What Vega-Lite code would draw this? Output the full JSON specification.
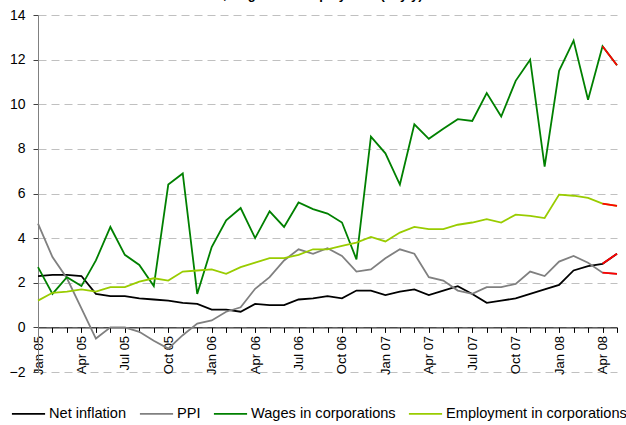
{
  "$schema": "https://vega.github.io/schema/vega-lite/v6.json",
  "width": 579,
  "height": 357,
  "autosize": {"type": "none"},
  "padding": {"left": 38, "top": 15, "right": 9, "bottom": 53},
  "background": "white",
  "title": {"text": "Inflation, wages and employment (% y/y)", "fontSize": 13, "fontWeight": "bold", "font": "Liberation Sans", "color": "black", "anchor": "middle", "baseline": "alphabetic", "offset": 0, "dy": 4, "dx": -30},
  "config": {
    "view": {"stroke": null},
    "font": "Liberation Sans",
    "axis": {"labelFont": "Liberation Sans", "labelFontSize": 13, "labelColor": "black"}
  },
  "data": {"values": [
    {"m": "Jan 05", "Net inflation": 2.3, "PPI": 4.65, "Wages in corporations": 2.7, "Employment in corporations": 1.2},
    {"m": "Feb 05", "Net inflation": 2.35, "PPI": 3.15, "Wages in corporations": 1.5, "Employment in corporations": 1.55},
    {"m": "Mar 05", "Net inflation": 2.35, "PPI": 2.2, "Wages in corporations": 2.25, "Employment in corporations": 1.6},
    {"m": "Apr 05", "Net inflation": 2.3, "PPI": 0.85, "Wages in corporations": 1.85, "Employment in corporations": 1.7},
    {"m": "May 05", "Net inflation": 1.5, "PPI": -0.5, "Wages in corporations": 3.0, "Employment in corporations": 1.6},
    {"m": "Jun 05", "Net inflation": 1.4, "PPI": 0.0, "Wages in corporations": 4.5, "Employment in corporations": 1.8},
    {"m": "Jul 05", "Net inflation": 1.4, "PPI": 0.0, "Wages in corporations": 3.25, "Employment in corporations": 1.8},
    {"m": "Aug 05", "Net inflation": 1.3, "PPI": -0.2, "Wages in corporations": 2.8, "Employment in corporations": 2.05},
    {"m": "Sep 05", "Net inflation": 1.25, "PPI": -0.6, "Wages in corporations": 1.85, "Employment in corporations": 2.2},
    {"m": "Oct 05", "Net inflation": 1.2, "PPI": -0.95, "Wages in corporations": 6.4, "Employment in corporations": 2.1},
    {"m": "Nov 05", "Net inflation": 1.1, "PPI": -0.35, "Wages in corporations": 6.9, "Employment in corporations": 2.5},
    {"m": "Dec 05", "Net inflation": 1.05, "PPI": 0.17, "Wages in corporations": 1.5, "Employment in corporations": 2.55},
    {"m": "Jan 06", "Net inflation": 0.8, "PPI": 0.31, "Wages in corporations": 3.6, "Employment in corporations": 2.6},
    {"m": "Feb 06", "Net inflation": 0.8, "PPI": 0.7, "Wages in corporations": 4.8, "Employment in corporations": 2.4},
    {"m": "Mar 06", "Net inflation": 0.7, "PPI": 0.9, "Wages in corporations": 5.35, "Employment in corporations": 2.7},
    {"m": "Apr 06", "Net inflation": 1.05, "PPI": 1.73, "Wages in corporations": 4.0, "Employment in corporations": 2.9},
    {"m": "May 06", "Net inflation": 1.0, "PPI": 2.25, "Wages in corporations": 5.2, "Employment in corporations": 3.1},
    {"m": "Jun 06", "Net inflation": 1.0, "PPI": 3.0, "Wages in corporations": 4.5, "Employment in corporations": 3.1},
    {"m": "Jul 06", "Net inflation": 1.25, "PPI": 3.5, "Wages in corporations": 5.6, "Employment in corporations": 3.25},
    {"m": "Aug 06", "Net inflation": 1.3, "PPI": 3.3, "Wages in corporations": 5.3, "Employment in corporations": 3.5},
    {"m": "Sep 06", "Net inflation": 1.4, "PPI": 3.55, "Wages in corporations": 5.1, "Employment in corporations": 3.5},
    {"m": "Oct 06", "Net inflation": 1.3, "PPI": 3.2, "Wages in corporations": 4.7, "Employment in corporations": 3.65},
    {"m": "Nov 06", "Net inflation": 1.65, "PPI": 2.5, "Wages in corporations": 3.05, "Employment in corporations": 3.8},
    {"m": "Dec 06", "Net inflation": 1.65, "PPI": 2.6, "Wages in corporations": 8.55, "Employment in corporations": 4.05},
    {"m": "Jan 07", "Net inflation": 1.45, "PPI": 3.1, "Wages in corporations": 7.8, "Employment in corporations": 3.85},
    {"m": "Feb 07", "Net inflation": 1.6, "PPI": 3.5, "Wages in corporations": 6.4, "Employment in corporations": 4.25},
    {"m": "Mar 07", "Net inflation": 1.7, "PPI": 3.3, "Wages in corporations": 9.1, "Employment in corporations": 4.5},
    {"m": "Apr 07", "Net inflation": 1.45, "PPI": 2.25, "Wages in corporations": 8.45, "Employment in corporations": 4.4},
    {"m": "May 07", "Net inflation": 1.65, "PPI": 2.1, "Wages in corporations": 8.9, "Employment in corporations": 4.4},
    {"m": "Jun 07", "Net inflation": 1.85, "PPI": 1.65, "Wages in corporations": 9.33, "Employment in corporations": 4.6},
    {"m": "Jul 07", "Net inflation": 1.5, "PPI": 1.5, "Wages in corporations": 9.25, "Employment in corporations": 4.7},
    {"m": "Aug 07", "Net inflation": 1.1, "PPI": 1.8, "Wages in corporations": 10.5, "Employment in corporations": 4.85},
    {"m": "Sep 07", "Net inflation": 1.2, "PPI": 1.8, "Wages in corporations": 9.45, "Employment in corporations": 4.7},
    {"m": "Oct 07", "Net inflation": 1.3, "PPI": 1.95, "Wages in corporations": 11.05, "Employment in corporations": 5.05},
    {"m": "Nov 07", "Net inflation": 1.5, "PPI": 2.5, "Wages in corporations": 12.0, "Employment in corporations": 5.0},
    {"m": "Dec 07", "Net inflation": 1.7, "PPI": 2.3, "Wages in corporations": 7.2, "Employment in corporations": 4.9},
    {"m": "Jan 08", "Net inflation": 1.9, "PPI": 2.95, "Wages in corporations": 11.5, "Employment in corporations": 5.95},
    {"m": "Feb 08", "Net inflation": 2.55, "PPI": 3.2, "Wages in corporations": 12.85, "Employment in corporations": 5.9},
    {"m": "Mar 08", "Net inflation": 2.75, "PPI": 2.9, "Wages in corporations": 10.2, "Employment in corporations": 5.8},
    {"m": "Apr 08", "Net inflation": 2.85, "PPI": 2.45, "Wages in corporations": 12.6, "Employment in corporations": 5.55},
    {"m": "May 08", "Net inflation": 3.3, "PPI": 2.4, "Wages in corporations": 11.75, "Employment in corporations": 5.45}
  ]},
  "transform": [
    {"fold": ["Net inflation", "PPI", "Wages in corporations", "Employment in corporations"], "as": ["series", "value"]}
  ],
  "encoding": {
    "x": {
      "field": "m", "type": "ordinal", "sort": null,
      "scale": {"type": "point", "padding": 0},
      "axis": {
        "title": null, "orient": "bottom", "offset": -44.6, "labelAngle": -90,
        "labelExpr": "test(/^(Jan|Apr|Jul|Oct)/, datum.value) ? datum.value : ''",
        "domainColor": "black", "tickColor": "black", "tickSize": 5, "labelPadding": 3, "grid": false, "labelOverlap": false
      }
    },
    "y": {
      "field": "value", "type": "quantitative",
      "scale": {"domain": [-2, 14], "nice": false, "zero": false},
      "axis": {
        "title": null, "values": [-2, 0, 2, 4, 6, 8, 10, 12, 14],
        "domainColor": "#808080", "tickColor": "#404040", "tickSize": 5,
        "grid": true, "gridColor": "#C0C0C0", "gridDash": [8, 5], "labelPadding": 8, "labelFontSize": 14
      }
    }
  },
  "layer": [
    {
      "mark": {"type": "line", "strokeWidth": 1.8},
      "encoding": {
        "color": {
          "field": "series", "type": "nominal",
          "scale": {"domain": ["Net inflation", "PPI", "Wages in corporations", "Employment in corporations"], "range": ["#000000", "#808080", "#008000", "#99CC00"]},
          "legend": {
            "orient": "none", "legendX": -27, "legendY": 381, "direction": "horizontal", "title": null,
            "symbolType": "stroke", "symbolStrokeWidth": 1.8, "symbolSize": 1100,
            "labelFontSize": 14.6, "labelFont": "Liberation Sans", "labelColor": "black", "labelOffset": 3, "labelLimit": 0, "columnPadding": 9
          }
        }
      }
    },
    {
      "transform": [{"filter": {"field": "m", "oneOf": ["Apr 08", "May 08"]}}],
      "mark": {"type": "line", "strokeWidth": 1.8, "color": "#FF0000"},
      "encoding": {"detail": {"field": "series", "type": "nominal"}}
    }
  ]
}
